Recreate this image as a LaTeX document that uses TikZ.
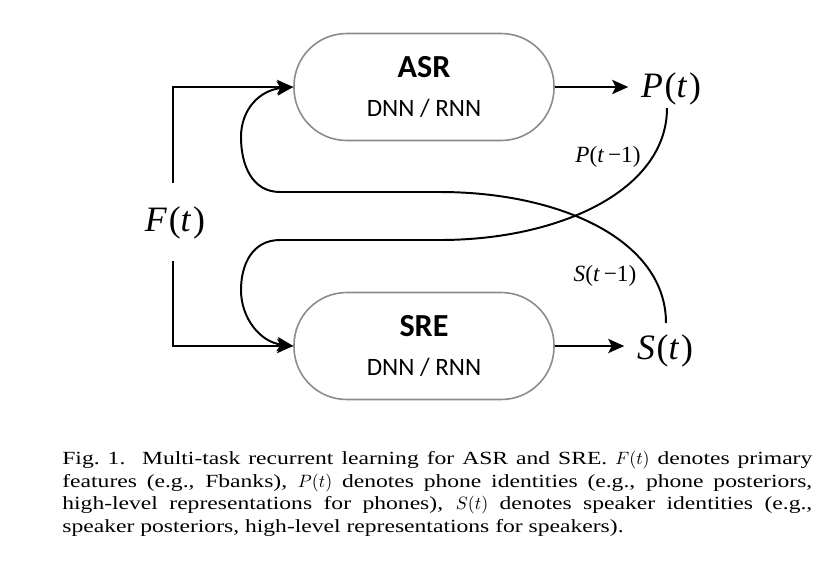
\documentclass[tikz,border=0pt]{standalone}
\usepackage{fontspec}
\setmainfont{Liberation Serif}
\newfontfamily\boxfont{Carlito}
\newfontfamily\capfont[FakeStretch=1.27]{Liberation Serif}
\usetikzlibrary{arrows.meta}

\begin{document}
\begin{tikzpicture}[x=0.56pt,y=-0.56pt,
    task/.style={draw=black!45,line width=0.9pt,rounded corners=29.5pt,
      minimum width=145.6pt,minimum height=59.9pt,inner sep=0pt,align=center,font=\boxfont},
    sig/.style={font=\fontsize{20}{24}\selectfont,inner sep=7pt},
    delay/.style={font=\fontsize{13}{16}\selectfont,inner sep=0pt},
    flow/.style={line width=1.1pt,-{Stealth[length=9pt,width=8pt,inset=2pt]}},
    loop/.style={line width=1.1pt}]
  \useasboundingbox (0,0) rectangle (822,565);
  % the two tasks
  \node [task] (asr) at (424,87) {\fontsize{18}{18}\selectfont\bfseries ASR\\[9.4pt]
    \fontsize{14}{14}\selectfont DNN / RNN};
  \node [task] (sre) at (424,346) {\fontsize{18}{18}\selectfont\bfseries SRE\\[9.4pt]
    \fontsize{14}{14}\selectfont DNN / RNN};
  % signals
  \node [sig] (f) at (175,223) {\textit{F}\kern1pt(\textit{t}\kern1pt)};
  \node [sig] (p) at (671,89) {\textit{P}\kern1pt(\textit{t}\kern1pt)};
  \node [sig] (s) at (665,351) {\textit{S}\kern1pt(\textit{t}\kern1pt)};
  \node [delay] (pprev) at (608,157) {\textit{P}(\textit{t}\,−1)};
  \node [delay] (sprev) at (605,276) {\textit{S}(\textit{t}\,−1)};
  \coordinate (ftop) at (173,183);
  \coordinate (fbot) at (173,261);
  \coordinate (pback) at (667,108);
  \coordinate (sback) at (666,323);
  % feed forward
  \draw [flow] (ftop) |- (asr.west);
  \draw [flow] (fbot) |- (sre.west);
  \draw [flow] (asr.east) -- (asr.east -| p.west);
  \draw [flow] (sre.east) -- (sre.east -| s.west);
  % recurrence
  \draw [loop,-{Stealth[length=9pt,width=8pt,inset=2pt]}] (pback) .. controls (667,190) and (560,240) .. (440,240)
    -- (280,240) .. controls (252,240) and (241,265) .. (241,290)
    .. controls (241,318) and (260,342) .. (sre.west);
  \draw [loop,-{Stealth[length=9pt,width=8pt,inset=2pt]}] (sback) .. controls (666,240) and (560,192) .. (440,192)
    -- (280,192) .. controls (252,192) and (241,165) .. (241,137)
    .. controls (241,109) and (260,90) .. (asr.west);
  % caption
  \node [anchor=north west,inner sep=0pt,text width=420pt,align=justify,
    font=\capfont\fontsize{10.4}{12.6}\selectfont] (cap) at (62,451)
    {Fig.~1.\hspace{0.9em}Multi-task recurrent learning for ASR and SRE. $F(t)$ denotes primary\linebreak
    features (e.g., Fbanks), $P(t)$ denotes phone identities (e.g., phone posteriors,\linebreak
    high-level representations for phones), $S(t)$ denotes speaker identities (e.g.,\linebreak
    speaker posteriors, high-level representations for speakers).};
\end{tikzpicture}
\end{document}
